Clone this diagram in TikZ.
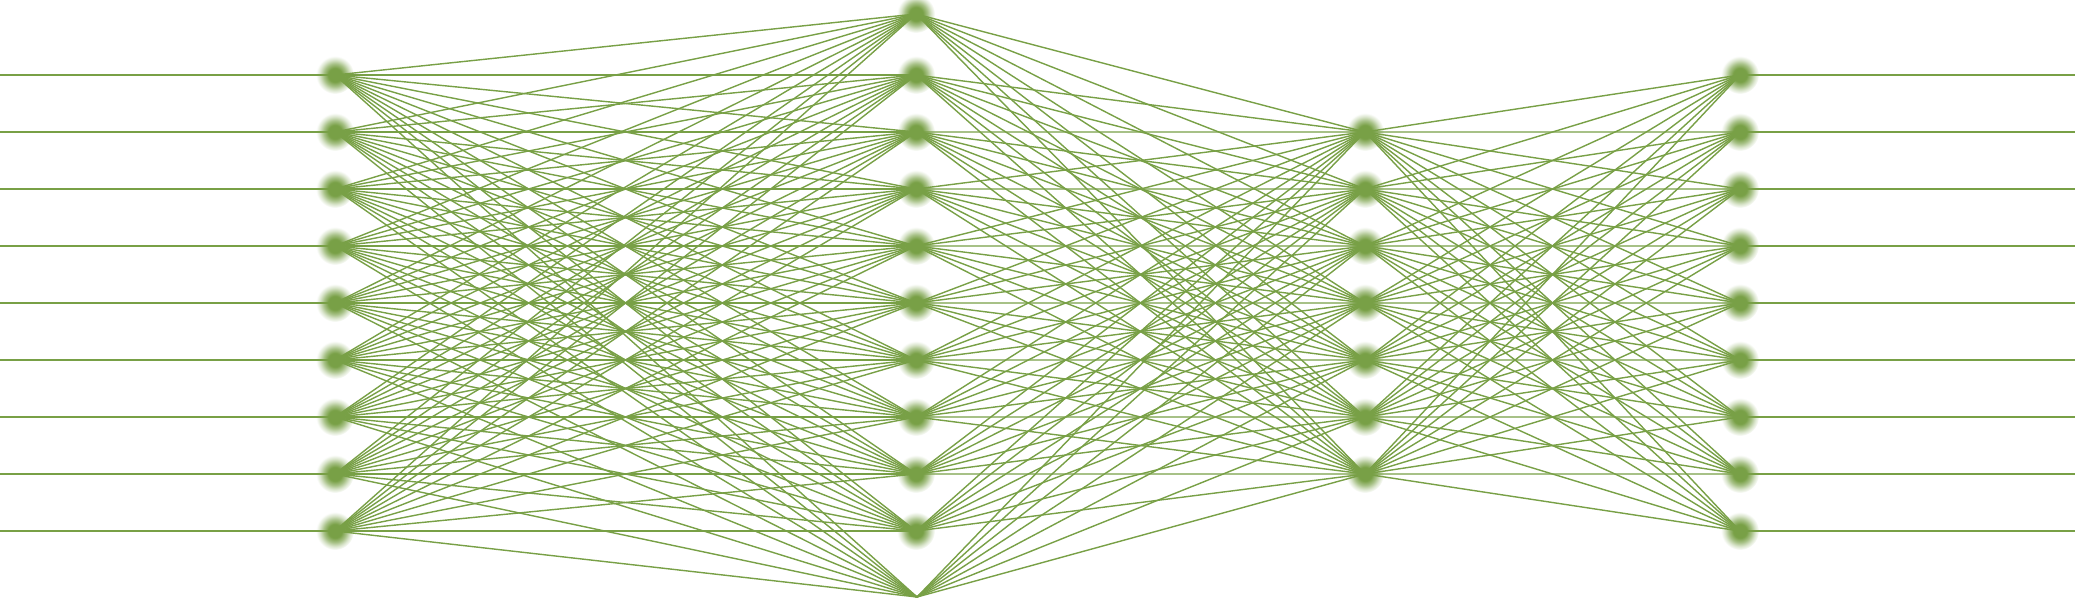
\documentclass[tikz,border=0pt]{standalone}
\usetikzlibrary{positioning}
\definecolor{net}{HTML}{78A046}
\pgfdeclareradialshading{glow}{\pgfpoint{0bp}{0bp}}{color(0bp)=(net); color(9bp)=(net); color(15bp)=(net!65); color(20bp)=(net!28); color(25bp)=(white); color(50bp)=(white)}
\pgfdeclarelayer{fg}
\pgfsetlayers{main,fg}
\begin{document}
\begin{tikzpicture}[
    wire/.style={net,line width=0.4pt},
    neuron/.style={circle,inner sep=0pt,minimum size=0.38cm,shade,shading=glow}
]
\useasboundingbox (0,0) rectangle (20.75,5.97);

% Input layer
\foreach \i in {1,...,9} {
    \node[neuron] (a\i) at (3.35,{5.79-0.57*\i}) {};
    \coordinate (in\i) at (0,{5.79-0.57*\i});
}

% First hidden layer
\node[neuron] (b0) at (9.16,5.83) {};
\foreach \i in {1,...,9}
    \node[neuron] (b\i) at (9.16,{5.79-0.57*\i}) {};
\coordinate (b10) at (9.17,0);

% Second hidden layer
\foreach \i in {1,...,7}
    \node[neuron] (c\i) at (13.65,{5.22-0.57*\i}) {};

% Output layer
\foreach \i in {1,...,9} {
    \node[neuron] (d\i) at (17.40,{5.79-0.57*\i}) {};
    \coordinate (out\i) at (20.75,{5.79-0.57*\i});
}

% Connections
\begin{pgfonlayer}{fg}
\foreach \i in {1,...,9} {
    \draw[wire] (in\i) -- (a\i.center);
    \draw[wire] (d\i.center) -- (out\i);
    \foreach \j in {0,...,9}
        \draw[wire] (a\i.center) -- (b\j.center);
    \draw[wire] (a\i.center) -- (b10);
}
\foreach \k in {1,...,7} {
    \foreach \j in {0,...,9}
        \draw[wire] (b\j.center) -- (c\k.center);
    \draw[wire] (b10) -- (c\k.center);
    \foreach \i in {1,...,9}
        \draw[wire] (c\k.center) -- (d\i.center);
}
\end{pgfonlayer}
\end{tikzpicture}
\end{document}
